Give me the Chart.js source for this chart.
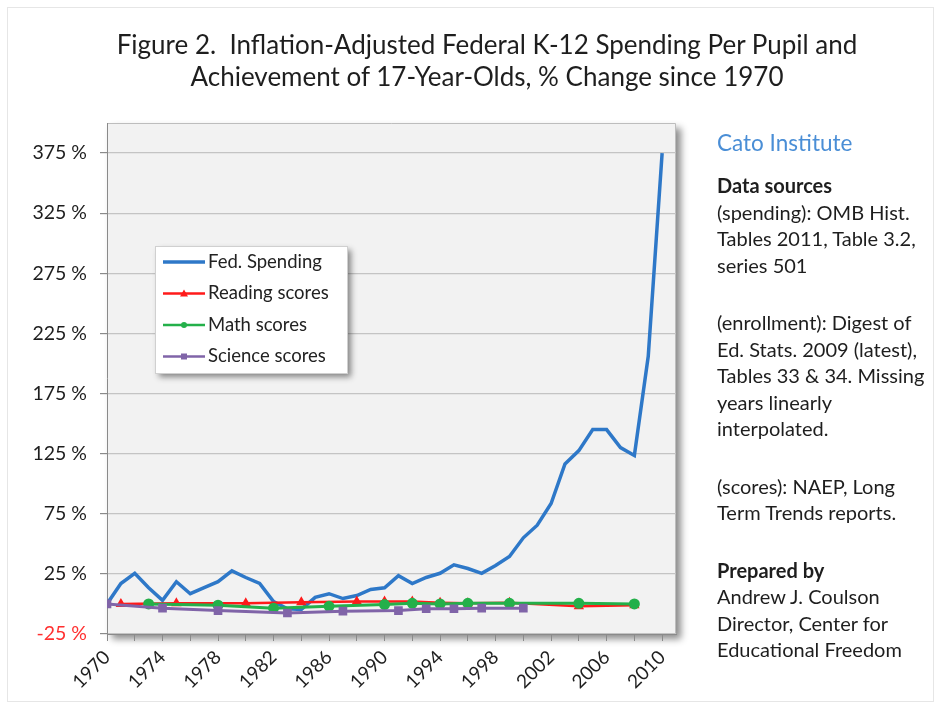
<!DOCTYPE html>
<html lang="en">
<head>
  <meta charset="UTF-8" />
  <title>Federal K-12 Spending and Achievement</title>
  <script src="https://cdn.jsdelivr.net/npm/chart.js"></script>
  <style>
    body { margin: 0; background: #fff; font-family: Lato, "Open Sans", sans-serif; }
    .page { position: relative; width: 940px; height: 708px; overflow: hidden; }
    .frame { position: absolute; left: 7px; top: 7px; width: 925px; height: 693px; border: 1px solid #e6e6e6; }
    canvas { position: absolute; left: 0; top: 0; }
    .title { position: absolute; left: 0; width: 974px; top: 28px; text-align: center;
             font-size: 26px; line-height: 32px; color: #1e1e1e; }
    .notes { position: absolute; left: 717px; top: 130px; color: #1e1e1e; font-size: 20px; line-height: 26.5px; }
    .notes .org { color: #4a8ed6; font-size: 22.5px; line-height: 26px; margin-bottom: 16px; }
    .notes .gap { margin-top: 31px; }
    .notes b { font-weight: bold; }
  </style>
</head>
<body>
  <div class="page">
    <div class="frame"></div>
    <canvas id="grafico" width="940" height="708"></canvas>
    <div class="title">Figure 2.&nbsp; Inflation-Adjusted Federal K-12 Spending Per Pupil and<br>Achievement of 17-Year-Olds, % Change since 1970</div>
    <div class="notes">
      <div class="org">Cato Institute</div>
      <div><b>Data sources</b><br>(spending): OMB Hist.<br>Tables 2011, Table 3.2,<br>series 501</div>
      <div class="gap">(enrollment): Digest of<br>Ed. Stats. 2009 (latest),<br>Tables 33 &amp; 34. Missing<br>years linearly<br>interpolated.</div>
      <div class="gap">(scores): NAEP, Long<br>Term Trends reports.</div>
      <div class="gap"><b>Prepared by</b><br>Andrew J. Coulson<br>Director, Center for<br>Educational Freedom</div>
    </div>
  </div>

  <script>
    // Federal spending per pupil, % change since 1970
    const anosGasto = [1970, 1971, 1972, 1973, 1974, 1975, 1976, 1977, 1978, 1979,
                       1980, 1981, 1982, 1983, 1984, 1985, 1986, 1987, 1988, 1989,
                       1990, 1991, 1992, 1993, 1994, 1995, 1996, 1997, 1998, 1999,
                       2000, 2001, 2002, 2003, 2004, 2005, 2006, 2007, 2008, 2009, 2010];
    const gasto = [0, 17, 25.5, 13.5, 3, 18.5, 8.5, 13.5, 18.5, 27.5,
                   22, 17, 2, -4, -4.5, 5.5, 8.5, 4.5, 7, 12,
                   13.5, 23.5, 17, 22, 25.5, 32.5, 29.5, 25.5, 32, 39.5,
                   55, 65.5, 83.5, 116.5, 127.5, 145, 145, 130, 123.5, 206, 375];

    // NAEP long-term trend, 17-year-olds
    const anosLeitura = [1971, 1975, 1980, 1984, 1988, 1990, 1992, 1994, 1996, 1999, 2004, 2008];
    const leitura = [0, 0.5, 0.5, 1.5, 2, 2, 2, 1, 0.5, 1, -2, -1];

    const anosMat = [1973, 1978, 1982, 1986, 1990, 1992, 1994, 1996, 1999, 2004, 2008];
    const matematica = [0, -1, -3.5, -2, -0.5, 0.5, 0, 0.5, 0.5, 0.5, 0];

    const anosCiencia = [1970, 1974, 1978, 1983, 1987, 1991, 1993, 1995, 1997, 2000];
    const ciencia = [0, -3.5, -5.5, -7.5, -6, -5.5, -4, -4, -3.5, -3.5];

    const ticksY = [-25, 25, 75, 125, 175, 225, 275, 325, 375];
    const ticksX = [];
    for (let a = 1970; a <= 2010; a += 2) ticksX.push(a);
    const rotulosX = [1970, 1974, 1978, 1982, 1986, 1990, 1994, 1998, 2002, 2006, 2010];

    const pontos = (xs, ys) => xs.map((x, i) => ({ x: x, y: ys[i] }));

    const series = [
      { label: 'Fed. Spending', data: pontos(anosGasto, gasto), borderColor: '#2e78c8',
        borderWidth: 3.5, pointRadius: 0, pointStyle: false, order: 3 },
      { label: 'Reading scores', data: pontos(anosLeitura, leitura), borderColor: '#ff1a1a',
        backgroundColor: '#ff1a1a', borderWidth: 2.5, pointStyle: 'triangle', pointRadius: 3.5, order: 2 },
      { label: 'Math scores', data: pontos(anosMat, matematica), borderColor: '#24b04a',
        backgroundColor: '#24b04a', borderWidth: 3, pointStyle: 'circle', pointRadius: 4, order: 1 },
      { label: 'Science scores', data: pontos(anosCiencia, ciencia), borderColor: '#8064a8',
        backgroundColor: '#8064a8', borderWidth: 3, pointStyle: 'rect', pointRadius: 4, order: 0 }
    ];

    // plot area fill, border and drop shadow
    const fundoPlot = {
      id: 'fundoPlot',
      beforeDraw(chart) {
        const { ctx, chartArea: a } = chart;
        ctx.save();
        ctx.shadowColor = 'rgba(0,0,0,0.45)';
        ctx.shadowBlur = 7;
        ctx.shadowOffsetX = 5;
        ctx.shadowOffsetY = 5;
        ctx.fillStyle = '#f2f2f2';
        ctx.fillRect(a.left, a.top, a.right - a.left, a.bottom - a.top);
        ctx.restore();
        ctx.save();
        ctx.strokeStyle = '#bdbdbd';
        ctx.lineWidth = 1;
        ctx.beginPath();
        ctx.moveTo(a.left, a.top + 0.5);
        ctx.lineTo(a.right - 0.5, a.top + 0.5);
        ctx.lineTo(a.right - 0.5, a.bottom);
        ctx.stroke();
        ctx.restore();
      }
    };

    // legend box inside the plot
    const legendaCaixa = {
      id: 'legendaCaixa',
      afterDraw(chart) {
        const { ctx } = chart;
        const x0 = 155, y0 = 246, w = 192, h = 127;
        ctx.save();
        ctx.shadowColor = 'rgba(0,0,0,0.45)';
        ctx.shadowBlur = 6;
        ctx.shadowOffsetX = 4;
        ctx.shadowOffsetY = 4;
        ctx.fillStyle = '#ffffff';
        ctx.fillRect(x0, y0, w, h);
        ctx.restore();
        ctx.save();
        ctx.strokeStyle = '#d0d0d0';
        ctx.strokeRect(x0 + 0.5, y0 + 0.5, w, h);
        ctx.font = '18.5px Lato, "Open Sans", sans-serif';
        ctx.textBaseline = 'middle';
        chart.data.datasets.forEach((ds, i) => {
          const y = y0 + 16 + i * 31.5;
          ctx.strokeStyle = ds.borderColor;
          ctx.lineWidth = i === 0 ? 3.5 : 2.5;
          ctx.beginPath();
          ctx.moveTo(163, y);
          ctx.lineTo(205, y);
          ctx.stroke();
          if (ds.pointStyle) {
            ctx.fillStyle = ds.backgroundColor;
            ctx.beginPath();
            if (ds.pointStyle === 'triangle') {
              ctx.moveTo(184, y - 4); ctx.lineTo(188, y + 3); ctx.lineTo(180, y + 3);
            } else if (ds.pointStyle === 'rect') {
              ctx.rect(181, y - 3, 6, 6);
            } else {
              ctx.arc(184, y, 3, 0, Math.PI * 2);
            }
            ctx.fill();
          }
          ctx.fillStyle = '#222222';
          ctx.fillText(ds.label, 208, y);
        });
        ctx.restore();
      }
    };

    new Chart(document.getElementById('grafico'), {
      type: 'line',
      data: { datasets: series },
      plugins: [fundoPlot, legendaCaixa],
      options: {
        responsive: false,
        animation: false,
        layout: { padding: { left: 27, right: 264, top: 123, bottom: 0 } },
        plugins: { legend: { display: false }, tooltip: { enabled: false }, title: { display: false } },
        elements: { line: { tension: 0 } },
        scales: {
          x: {
            type: 'linear',
            min: 1970,
            max: 2011,
            afterFit: (s) => { s.height = 74; },
            afterBuildTicks: (s) => { s.ticks = ticksX.map(v => ({ value: v })); },
            border: { color: '#8a8a8a', width: 1 },
            grid: { drawOnChartArea: false, drawTicks: true, tickLength: 7, color: '#8a8a8a' },
            ticks: {
              autoSkip: false,
              minRotation: 45,
              maxRotation: 45,
              padding: 5,
              color: '#1e1e1e',
              font: { family: 'Lato', size: 19 },
              callback: (v) => rotulosX.includes(v) ? String(v) : ''
            }
          },
          y: {
            min: -25,
            max: 400,
            afterFit: (s) => { s.width = 80; },
            afterBuildTicks: (s) => { s.ticks = ticksY.map(v => ({ value: v })); },
            border: { color: '#8a8a8a', width: 1 },
            grid: { color: '#c4c4c4', lineWidth: 1.2, tickLength: 7, tickColor: '#8a8a8a' },
            ticks: {
              padding: 13,
              color: (c) => c.tick && c.tick.value < 0 ? '#ff3030' : '#1e1e1e',
              font: { family: 'Lato', size: 19.5 },
              callback: (v) => v + ' %'
            }
          }
        }
      }
    });
  </script>
</body>
</html>
